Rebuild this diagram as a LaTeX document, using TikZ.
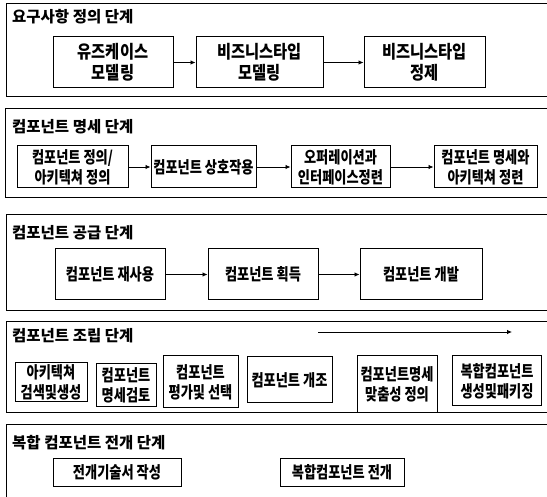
\documentclass[tikz,border=0pt]{standalone}
\usepackage{fontspec}
\setmainfont{Noto Sans CJK KR}
\newfontfamily\krc[FakeStretch=0.85]{Noto Sans CJK KR}
\newfontfamily\krcc[FakeStretch=0.8]{Noto Sans CJK KR}
\usetikzlibrary{arrows.meta}
\tikzset{
  frame/.style={line width=1pt},
  title/.style={anchor=west,inner sep=0pt,font=\bfseries\fontsize{15.5}{17}\selectfont},
  pbox/.style={draw,line width=1pt,inner sep=0pt,align=center,font=\krc\bfseries\fontsize{18}{21}\selectfont},
  cbox/.style={pbox,font=\krcc\bfseries\fontsize{16.5}{20}\selectfont},
  flow/.style={-{Latex[length=5pt,width=4.5pt]},line width=0.8pt}
}
\newcommand{\bx}[6]{\node[#1,minimum width=#4pt,minimum height=#5pt] (#2) at (#3) {#6};}
\begin{document}
\begin{tikzpicture}[x=1pt,y=-1pt]
\useasboundingbox (0,0) rectangle (547,497);
\fill[white] (0,0) rectangle (547,497);
% frames
\draw[frame] (547,4) -- (6,4) -- (6,97) -- (547,97);
\draw[frame] (547,109) -- (5,109) -- (5,198) -- (547,198);
\draw[frame] (547,215) -- (6,215) -- (6,311) -- (547,311);
\draw[frame] (547,322) -- (6,322) -- (6,413) -- (547,413);
\draw[frame] (547,425) -- (6,425) -- (6,497);
% titles
\node[title] (t1) at (12,17) {요구사항 정의 단계};
\node[title] (t2) at (12,127) {컴포넌트 명세 단계};
\node[title] (t3) at (12,233) {컴포넌트 공급 단계};
\node[title] (t4) at (12,336) {컴포넌트 조립 단계};
\node[title] (t5) at (12,443) {복합 컴포넌트 전개 단계};
% row 1
\bx{pbox}{b11}{113,62.5}{120}{51}{유즈케이스\\모델링}
\bx{pbox}{b12}{259.5,62.5}{127}{51}{비즈니스타입\\모델링}
\bx{pbox}{b13}{424.5,62.5}{121}{51}{비즈니스타입\\정제}
\draw[flow] (b11) -- (b12);
\draw[flow] (b12) -- (b13);
% row 2
\bx{cbox}{b21}{72.5,167}{111}{42}{컴포넌트 정의/\\아키텍쳐 정의}
\bx{cbox}{b22}{203.5,167}{105}{42}{컴포넌트 상호작용}
\bx{cbox}{b23}{340.5,167}{99}{42}{오퍼레이션과\\인터페이스정련}
\bx{cbox}{b24}{485.5,167}{103}{42}{컴포넌트 명세와\\아키텍쳐 정련}
\draw[flow] (b21) -- (b22);
\draw[flow] (b22) -- (b23);
\draw[flow] (b23) -- (b24);
% row 3
\bx{cbox}{b31}{110,274.5}{110}{51}{컴포넌트 재사용}
\bx{cbox}{b32}{263,274.5}{110}{51}{컴포넌트 획득}
\bx{cbox}{b33}{421,274.5}{122}{51}{컴포넌트 개발}
\draw[flow] (b31) -- (b32);
\draw[flow] (b32) -- (b33);
% row 4
\coordinate (a4s) at (318,332);
\coordinate (a4e) at (512,332);
\draw[flow] (a4s) -- (a4e);
\bx{cbox}{b41}{51,382.5}{72}{39}{아키텍쳐\\검색및생성}
\bx{cbox}{b42}{126,385.5}{60}{43}{컴포넌트\\명세검토}
\bx{cbox}{b43}{200.5,382}{75}{52}{컴포넌트\\평가및 선택}
\bx{cbox}{b44}{289.5,380}{85}{46}{컴포넌트 개조}
\bx{cbox}{b45}{397,384.5}{80}{57}{컴포넌트명세\\맞춤성 정의}
\bx{cbox}{b46}{497,381}{89}{50}{복합컴포넌트\\생성및패키징}
% row 5
\bx{cbox}{b51}{117,472.5}{128}{27}{전개기술서 작성}
\bx{cbox}{b52}{342,472.5}{124}{27}{복합컴포넌트 전개}
\end{tikzpicture}
\end{document}
